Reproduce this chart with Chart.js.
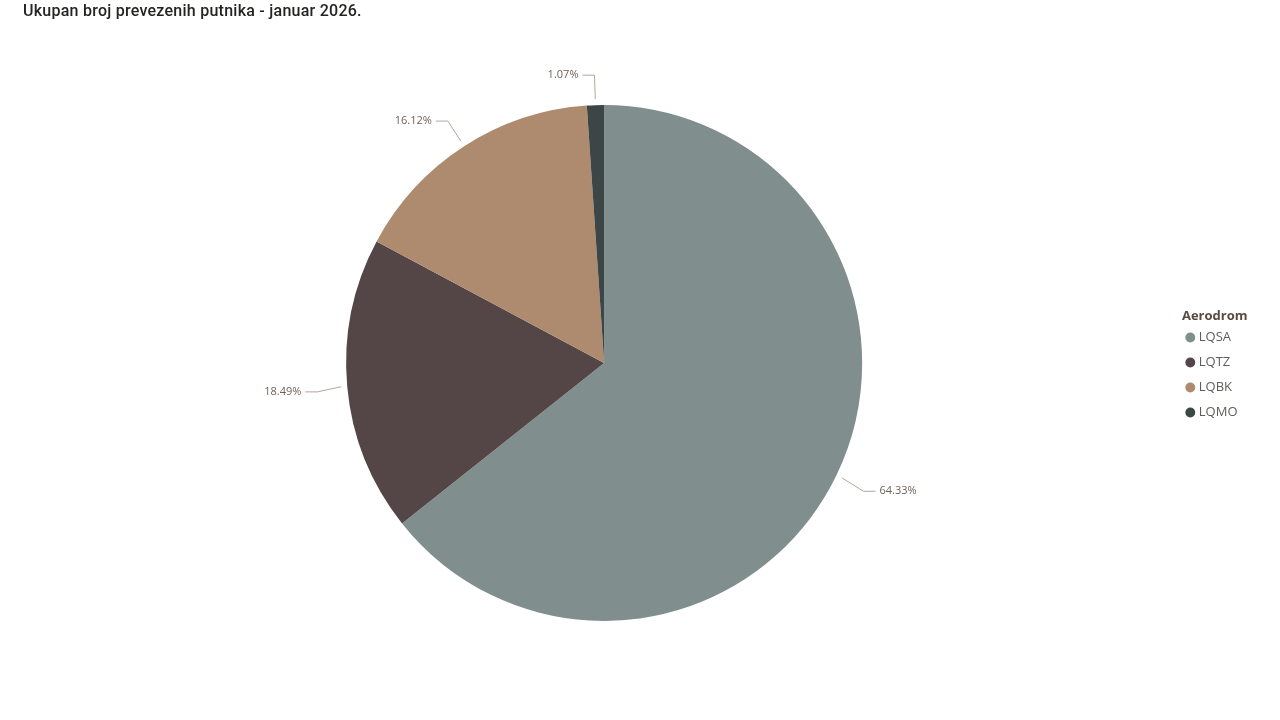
<!DOCTYPE html>
<html>
<head>
<meta charset="utf-8">
<script src="https://cdn.jsdelivr.net/npm/chart.js@4/dist/chart.umd.min.js"></script>
<style>
  html, body { margin: 0; padding: 0; background: #fff; }
  #wrap { position: relative; width: 1280px; height: 720px; }
  #title {
    position: absolute; left: 23px; top: 1px;
    font-family: Roboto, "Noto Sans", sans-serif; font-size: 16px; font-weight: 500;
    color: #252423; letter-spacing: 0.25px;
  }
</style>
</head>
<body>
<div id="wrap">
  <div id="title">Ukupan broj prevezenih putnika - januar 2026.</div>
  <canvas id="pie" width="1280" height="720"></canvas>
</div>
<script>
// data
const airports = ['LQSA', 'LQTZ', 'LQBK', 'LQMO'];
const shares = [64.33, 18.49, 16.12, 1.07];
const sliceColors = ['#808e8e', '#544647', '#ae8b6f', '#3c4647'];

// leader lines + percent labels outside slices
const outsideLabels = {
    id: 'outsideLabels',
    afterDatasetsDraw(chart) {
        const ctx = chart.ctx;
        const meta = chart.getDatasetMeta(0);
        ctx.save();
        ctx.font = '11px "Open Sans", "Noto Sans", sans-serif';
        ctx.textBaseline = 'middle';
        meta.data.forEach((arc, i) => {
            const { x, y, startAngle, endAngle, outerRadius } = arc.getProps(['x', 'y', 'startAngle', 'endAngle', 'outerRadius'], true);
            const mid = (startAngle + endAngle) / 2;
            const cos = Math.cos(mid), sin = Math.sin(mid);
            const x0 = x + cos * (outerRadius + 6), y0 = y + sin * (outerRadius + 6);
            const x1 = x + cos * (outerRadius + 30), y1 = y + sin * (outerRadius + 30) + (sin > 0 ? 3 : 0);
            const dir = cos >= 0 ? 1 : -1;
            const x2 = x1 + dir * 12;
            ctx.strokeStyle = '#b3a69c';
            ctx.lineWidth = 1;
            ctx.beginPath();
            ctx.moveTo(x0, y0);
            ctx.lineTo(x1, y1);
            ctx.lineTo(x2, y1);
            ctx.stroke();
            ctx.fillStyle = '#6e6259';
            ctx.textAlign = dir > 0 ? 'left' : 'right';
            ctx.fillText(shares[i].toFixed(2) + '%', x2 + dir * 4, y1);
        });
        ctx.restore();
    }
};

const ctx = document.getElementById('pie').getContext('2d');
new Chart(ctx, {
    type: 'pie',
    data: {
        labels: airports,
        datasets: [{
            data: shares,
            backgroundColor: sliceColors,
            borderWidth: 0
        }]
    },
    options: {
        responsive: false,
        animation: false,
        layout: { padding: { top: 105, bottom: 99, left: 32, right: 32.5 } },
        plugins: {
            legend: {
                position: 'right',
                align: 'center',
                title: {
                    display: true,
                    text: 'Aerodrom',
                    position: 'end',
                    color: '#5b4a3f',
                    font: { family: '"Open Sans", "Noto Sans", sans-serif', size: 13, weight: 'bold' },
                    padding: { top: 15, bottom: -6.6 }
                },
                labels: {
                    usePointStyle: true,
                    pointStyle: 'circle',
                    boxWidth: 4,
                    boxHeight: 7,
                    padding: 12,
                    color: '#605e5c',
                    font: { family: '"Open Sans", "Noto Sans", sans-serif', size: 13 }
                }
            },
            tooltip: { enabled: false }
        }
    },
    plugins: [outsideLabels]
});
</script>
</body>
</html>
